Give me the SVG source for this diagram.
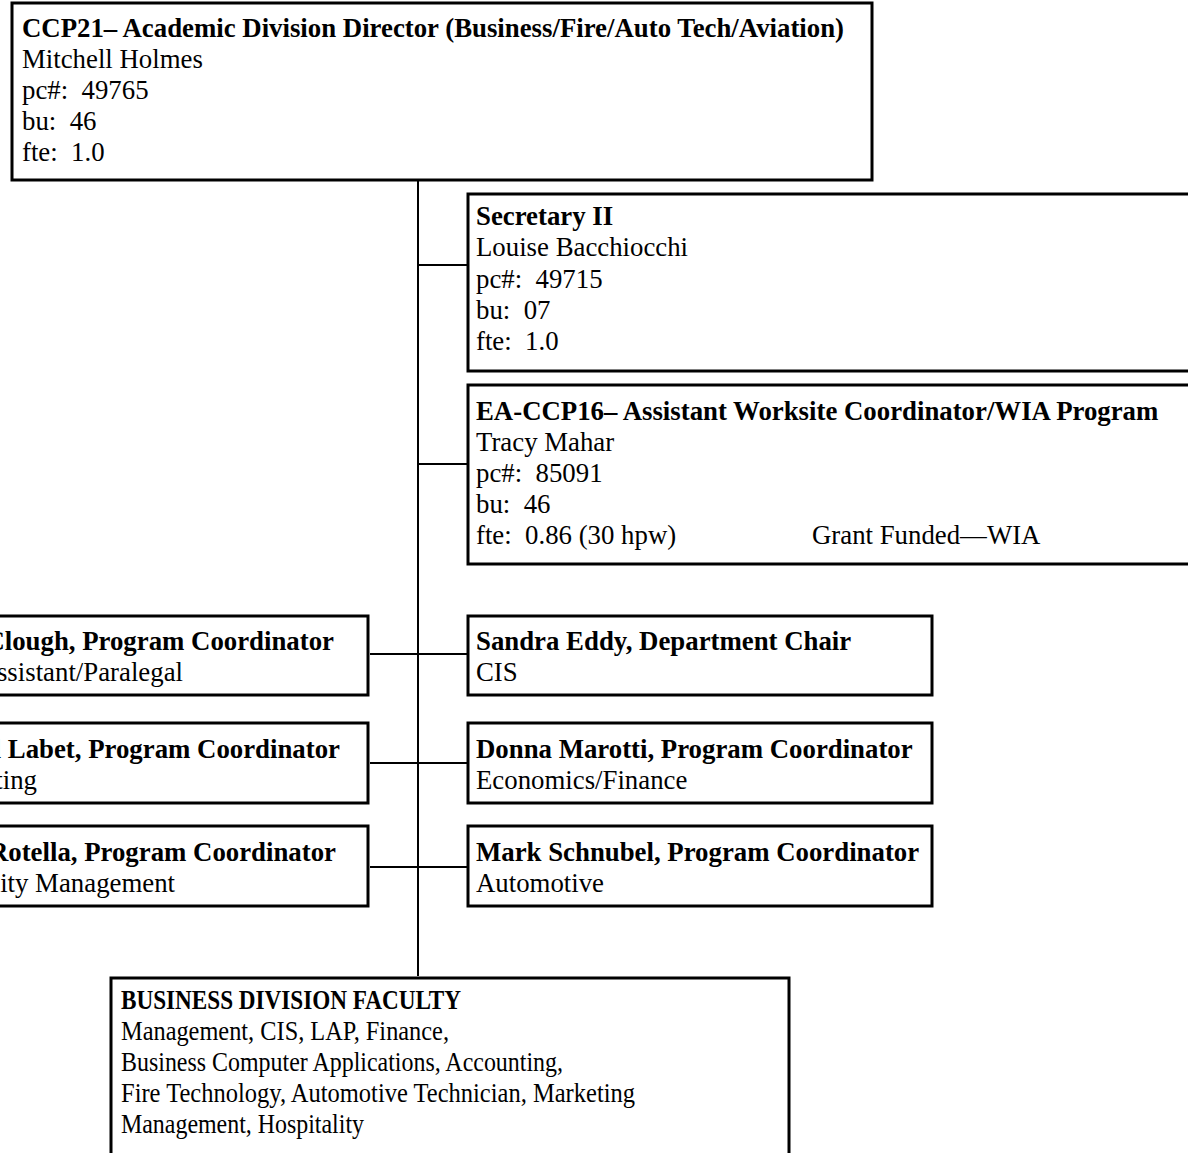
<svg xmlns="http://www.w3.org/2000/svg" width="1188" height="1153" viewBox="0 0 1188 1153">
<style>
.box{fill:#fff;stroke:#000;stroke-width:3}
.ln{stroke:#000;stroke-width:2;fill:none}
text{font-family:"Liberation Serif","Times New Roman",serif;font-size:26.8px;fill:#000;white-space:pre}
.b{font-weight:bold}
.e{text-anchor:end}
</style>
<rect width="1188" height="1153" fill="#fff"/>
<g id="connectors">
<line class="ln" x1="418" y1="181" x2="418" y2="976"/>
<line class="ln" x1="418" y1="265" x2="468" y2="265"/>
<line class="ln" x1="418" y1="464" x2="468" y2="464"/>
<line class="ln" x1="370" y1="654" x2="468" y2="654"/>
<line class="ln" x1="370" y1="763" x2="468" y2="763"/>
<line class="ln" x1="370" y1="867" x2="468" y2="867"/>
</g>
<g id="director">
<rect class="box" x="12" y="3" width="860" height="177"/>
<text x="22" y="37" class="b">CCP21– Academic Division Director (Business/Fire/Auto Tech/Aviation)</text>
<text x="22" y="68">Mitchell Holmes</text>
<text x="22" y="99" xml:space="preserve">pc#:  49765</text>
<text x="22" y="130" xml:space="preserve">bu:  46</text>
<text x="22" y="161" xml:space="preserve">fte:  1.0</text>
</g>
<g id="secretary">
<rect class="box" x="468" y="194" width="740" height="177"/>
<text x="476" y="225" class="b">Secretary II</text>
<text x="476" y="256">Louise Bacchiocchi</text>
<text x="476" y="288" xml:space="preserve">pc#:  49715</text>
<text x="476" y="319" xml:space="preserve">bu:  07</text>
<text x="476" y="350" xml:space="preserve">fte:  1.0</text>
</g>
<g id="wia">
<rect class="box" x="468" y="385" width="740" height="179"/>
<text x="476" y="420" class="b">EA-CCP16– Assistant Worksite Coordinator/WIA Program</text>
<text x="476" y="451">Tracy Mahar</text>
<text x="476" y="482" xml:space="preserve">pc#:  85091</text>
<text x="476" y="513" xml:space="preserve">bu:  46</text>
<text x="476" y="544" xml:space="preserve">fte:  0.86 (30 hpw)</text>
<text x="812" y="544">Grant Funded—WIA</text>
</g>
<g id="clough">
<rect class="box" x="-20" y="616" width="388" height="79"/>
<text x="334" y="650" class="b e">Clough, Program Coordinator</text>
<text x="183" y="681" class="e">ssistant/Paralegal</text>
</g>
<g id="labet">
<rect class="box" x="-20" y="723" width="388" height="80"/>
<text x="340" y="758" class="b e">l Labet, Program Coordinator</text>
<text x="37" y="789" class="e">ting</text>
</g>
<g id="rotella">
<rect class="box" x="-20" y="826" width="388" height="80"/>
<text x="336" y="861" class="b e">Rotella, Program Coordinator</text>
<text x="175" y="892" class="e">ity Management</text>
</g>
<g id="eddy">
<rect class="box" x="468" y="616" width="464" height="79"/>
<text x="476" y="650" class="b">Sandra Eddy, Department Chair</text>
<text x="476" y="681">CIS</text>
</g>
<g id="marotti">
<rect class="box" x="468" y="723" width="464" height="80"/>
<text x="476" y="758" class="b">Donna Marotti, Program Coordinator</text>
<text x="476" y="789">Economics/Finance</text>
</g>
<g id="schnubel">
<rect class="box" x="468" y="826" width="464" height="80"/>
<text x="476" y="861" class="b">Mark Schnubel, Program Coordinator</text>
<text x="476" y="892">Automotive</text>
</g>
<g id="faculty">
<rect class="box" x="111" y="978" width="678" height="200"/>
<text x="121" y="1009" class="b" textLength="340" lengthAdjust="spacingAndGlyphs">BUSINESS DIVISION FACULTY</text>
<text x="121" y="1040" textLength="328" lengthAdjust="spacingAndGlyphs">Management, CIS, LAP, Finance,</text>
<text x="121" y="1071" textLength="442" lengthAdjust="spacingAndGlyphs">Business Computer Applications, Accounting,</text>
<text x="121" y="1102" textLength="514" lengthAdjust="spacingAndGlyphs">Fire Technology, Automotive Technician, Marketing</text>
<text x="121" y="1133" textLength="243" lengthAdjust="spacingAndGlyphs">Management, Hospitality</text>
</g>
</svg>
